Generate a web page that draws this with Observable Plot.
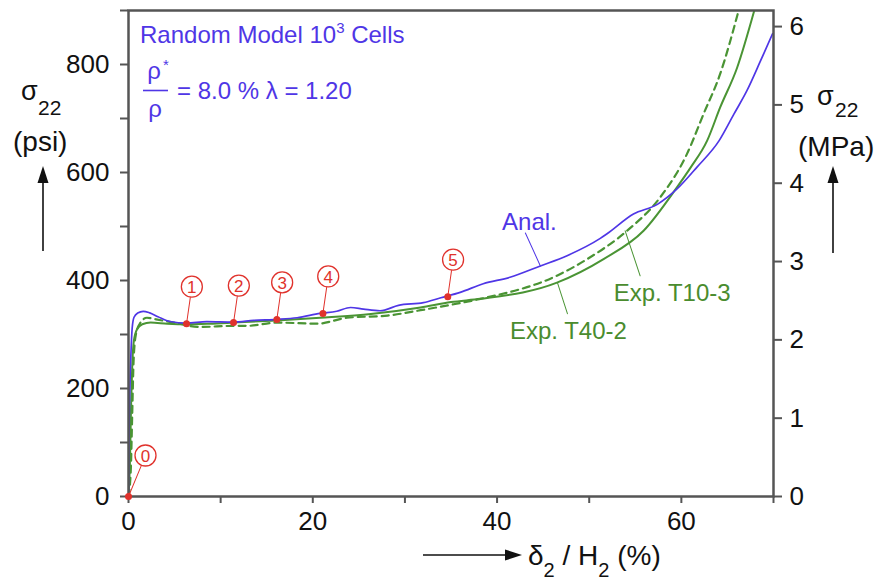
<!DOCTYPE html>
<html><head><meta charset="utf-8">
<script src="https://cdn.jsdelivr.net/npm/d3@7"></script>
<script src="https://cdn.jsdelivr.net/npm/@observablehq/plot@0.6"></script>
<style>body{margin:0;background:#fff} svg{display:block}</style>
</head><body><div id="chart"></div>
<script>
// ---------- data ----------
const analX = [0, 0.05, 0.15, 0.3, 0.4, 0.6, 1.0, 1.6, 2.3, 3.2, 4.5, 6.3, 8.5, 11.4, 13.6, 16.1, 18.3, 20.8, 22.6, 24.1, 25.5, 27.3, 29.3, 32.0, 33.9, 36.0, 38.5, 41.4, 44.7, 47.6, 51.2, 51.9, 54.8, 57.4, 59.5, 61.7, 64.1, 65.7, 67.1, 68.6, 69.9];
const analY = [0, 100, 200, 280, 312, 332, 340, 343, 340, 333, 324, 321, 324, 323, 326, 328, 331, 339, 343, 350, 347, 344, 354, 359, 368, 378, 394, 406, 427, 446, 478, 486, 523, 541, 569, 610, 659, 708, 751, 807, 857];

const t40X = [0, 0.15, 0.29, 0.4, 0.58, 0.94, 1.5, 2.4, 4.2, 6.4, 8.8, 11.4, 16.1, 20.8, 26.3, 31.7, 35.0, 38.2, 46.5, 51.6, 55.9, 59.5, 61.0, 62.8, 64.2, 66.05, 67.9];
const t40Y = [0, 60, 177, 239, 288, 310, 319, 322, 320, 319, 320, 322, 326, 331, 338, 350, 360, 366, 396, 440, 492, 572, 609, 659, 720, 794, 899];

const t10X = [0, 0.25, 0.4, 0.55, 0.8, 1.3, 2.0, 3.0, 4.9, 7.8, 11.4, 12.9, 16.1, 20.5, 23.7, 28.1, 31.7, 35.3, 38.2, 46.5, 50.1, 54.1, 57.7, 60.6, 62.4, 64.2, 66.2];
const t10Y = [0, 50, 150, 250, 300, 322, 331, 328, 322, 314, 316, 316, 322, 320, 331, 335, 345, 356, 366, 409, 443, 492, 554, 634, 708, 782, 899];

const markerIds = [0, 1, 2, 3, 4, 5];
const markerX = [0, 6.3, 11.4, 16.1, 21.1, 34.65];
const markerY = [0, 320, 322, 328, 339, 370];

const curveNames = ["Anal.", "Exp. T40-2", "Exp. T10-3"];
const curveLabelX = [44.7, 46.55, 53.9];
const curveLabelY = [427, 396, 492];

const psiTicks = [0, 100, 200, 300, 400, 500, 600, 700, 800, 900];
const psiLabels = [0, 200, 400, 600, 800];
const mpaTicks = [0, 1, 2, 3, 4, 5, 6];
const strainTicks = [0, 10, 20, 30, 40, 50, 60, 70];
const strainLabels = [0, 20, 40, 60];
const PSI_PER_MPA = 145.038;

// ---------- styles ----------
const FONT = "'Liberation Sans', Arial, Helvetica, sans-serif";
const BLUE = "#4f36e6";
const GREEN = "#4a9434";
const GREEN_TXT = "#4a8c2e";
const RED = "#e0322c";
const AXIS = "#555";

const toRows = (xs, ys) => xs.map((x, i) => ({x, y: ys[i]}));
const anal = toRows(analX, analY);
const t40 = toRows(t40X, t40Y);
const t10 = toRows(t10X, t10Y);
const markers = markerIds.map((id, i) => ({id, x: markerX[i], y: markerY[i]}));
const labels = curveNames.map((name, i) => ({name, x: curveLabelX[i], y: curveLabelY[i]}));

const lineShape = {draw(ctx, l) { ctx.moveTo(0, 0); ctx.lineTo(0, -l); }};

function callout(data, dx, dy) {
  const len = Math.hypot(dx, dy) - 11;
  const rot = Math.atan2(dx, -dy) * 180 / Math.PI;
  return [
    Plot.vector(data, {x: "x", y: "y", anchor: "start", length: len, rotate: rot, shape: lineShape, stroke: RED, strokeWidth: 1}),
    Plot.dot(data, {x: "x", y: "y", dx, dy, r: 10.5, stroke: RED, strokeWidth: 1.3, fill: "white"}),
    Plot.text(data, {x: "x", y: "y", dx, dy: dy + 1, text: d => String(d.id), fill: RED, fontSize: 17, fontFamily: FONT})
  ];
}

function curveLabel(name, color, textColor, ldx, ldy, tdx, tdy) {
  const d = labels.filter(l => l.name === name);
  const len = Math.hypot(ldx, ldy);
  const rot = Math.atan2(ldx, -ldy) * 180 / Math.PI;
  return [
    Plot.vector(d, {x: "x", y: "y", anchor: "start", length: len, rotate: rot, shape: lineShape, stroke: color, strokeWidth: 1}),
    Plot.text(d, {x: "x", y: "y", text: "name", dx: tdx, dy: tdy, fill: textColor, fontSize: 24, fontFamily: FONT})
  ];
}

const svg = Plot.plot({
  width: 881, height: 581,
  marginLeft: 128, marginRight: 108, marginTop: 10, marginBottom: 85,
  style: {fontFamily: FONT, background: "white", overflow: "visible"},
  x: {domain: [0, 70]},
  y: {domain: [0, 900]},
  marks: [
    Plot.line(t10, {x: "x", y: "y", stroke: GREEN, strokeWidth: 2.2, strokeDasharray: "7,5", curve: "monotone-x", clip: true}),
    Plot.line(t40, {x: "x", y: "y", stroke: GREEN, strokeWidth: 2, curve: "monotone-x", clip: true}),
    Plot.line(anal, {x: "x", y: "y", stroke: BLUE, strokeWidth: 1.7, curve: "monotone-x", clip: true}),
    Plot.frame({stroke: AXIS, strokeWidth: 2.5}),
    Plot.axisY({anchor: "left", ticks: psiTicks, tickFormat: d => psiLabels.includes(d) ? String(d) : "", tickSize: 8, tickPadding: 11, fontSize: 26, stroke: AXIS, strokeWidth: 2, fill: "#111", label: null}),
    Plot.axisY({anchor: "right", ticks: mpaTicks.map(m => m * PSI_PER_MPA), tickFormat: d => String(Math.round(d / PSI_PER_MPA)), tickSize: 8, tickPadding: 8, fontSize: 26, stroke: AXIS, strokeWidth: 2, fill: "#111", label: null}),
    Plot.axisX({anchor: "bottom", ticks: strainTicks, tickFormat: d => strainLabels.includes(d) ? String(d) : "", tickSize: 7, tickPadding: 8, fontSize: 26, stroke: AXIS, strokeWidth: 2, fill: "#111", label: null}),
    ...curveLabel("Anal.", BLUE, BLUE, -15, -33, -11, -44),
    ...curveLabel("Exp. T40-2", GREEN, GREEN_TXT, 10, 31, 11, 49),
    ...curveLabel("Exp. T10-3", GREEN, GREEN_TXT, 15, 45, 47, 62),
    ...callout(markers.filter(d => d.id > 0), 5.3, -37),
    ...callout(markers.filter(d => d.id === 0), 17, -41),
    Plot.dot(markers, {x: "x", y: "y", r: 3.5, fill: RED})
  ]
});

// ---------- titles (text) ----------
const s = d3.select(svg);
const g = s.append("g").attr("font-family", FONT).attr("text-anchor", "start");
function txt(x, y, size, fill, str, anchor = "start") {
  return g.append("text").attr("x", x).attr("y", y).attr("font-size", size).attr("fill", fill).attr("text-anchor", anchor).text(str);
}
// model title
const t = g.append("text").attr("x", 140).attr("y", 43).attr("font-size", 24).attr("fill", BLUE).attr("text-anchor", "start");
t.append("tspan").text("Random Model 10");
t.append("tspan").attr("font-size", 15).attr("dy", -10).text("3");
t.append("tspan").attr("dy", 10).text(" Cells");
// fraction
txt(154, 79, 24, BLUE, "ρ", "middle");
txt(163, 70, 15, BLUE, "*");
g.append("line").attr("x1", 143).attr("x2", 168).attr("y1", 90.5).attr("y2", 90.5).attr("stroke", BLUE).attr("stroke-width", 1.6);
txt(155, 117, 24, BLUE, "ρ", "middle");
txt(177, 99, 24, BLUE, "= 8.0 % λ = 1.20");

// left axis title
txt(21, 100, 27, "#111", "σ");
txt(38, 115, 21, "#111", "22");
txt(13, 151, 28, "#111", "(psi)");
// right axis title
txt(817, 105, 27, "#111", "σ");
txt(835, 117, 21, "#111", "22");
txt(798, 156, 28, "#111", "(MPa)");
// bottom axis title
const b = g.append("text").attr("x", 528).attr("y", 565).attr("font-size", 28).attr("fill", "#111").attr("text-anchor", "start");
b.append("tspan").text("δ");
b.append("tspan").attr("font-size", 20).attr("dy", 12).text("2");
b.append("tspan").attr("dy", -12).text(" / H");
b.append("tspan").attr("font-size", 20).attr("dy", 12).text("2");
b.append("tspan").attr("dy", -12).text(" (%)");

// arrows
function arrow(x1, y1, x2, y2) {
  const ang = Math.atan2(y2 - y1, x2 - x1), L = 17, W = 5.5;
  const bx = x2 - L * Math.cos(ang), by = y2 - L * Math.sin(ang);
  g.append("line").attr("x1", x1).attr("y1", y1).attr("x2", bx).attr("y2", by).attr("stroke", "#111").attr("stroke-width", 1.6);
  const px = -Math.sin(ang) * W, py = Math.cos(ang) * W;
  g.append("path").attr("d", `M${x2},${y2}L${bx + px},${by + py}L${bx - px},${by - py}Z`).attr("fill", "#111");
}
arrow(43, 251, 43, 166);
arrow(833, 253, 833, 166);
arrow(423, 555, 522, 555);

document.getElementById("chart").appendChild(svg);
</script>
</body></html>
